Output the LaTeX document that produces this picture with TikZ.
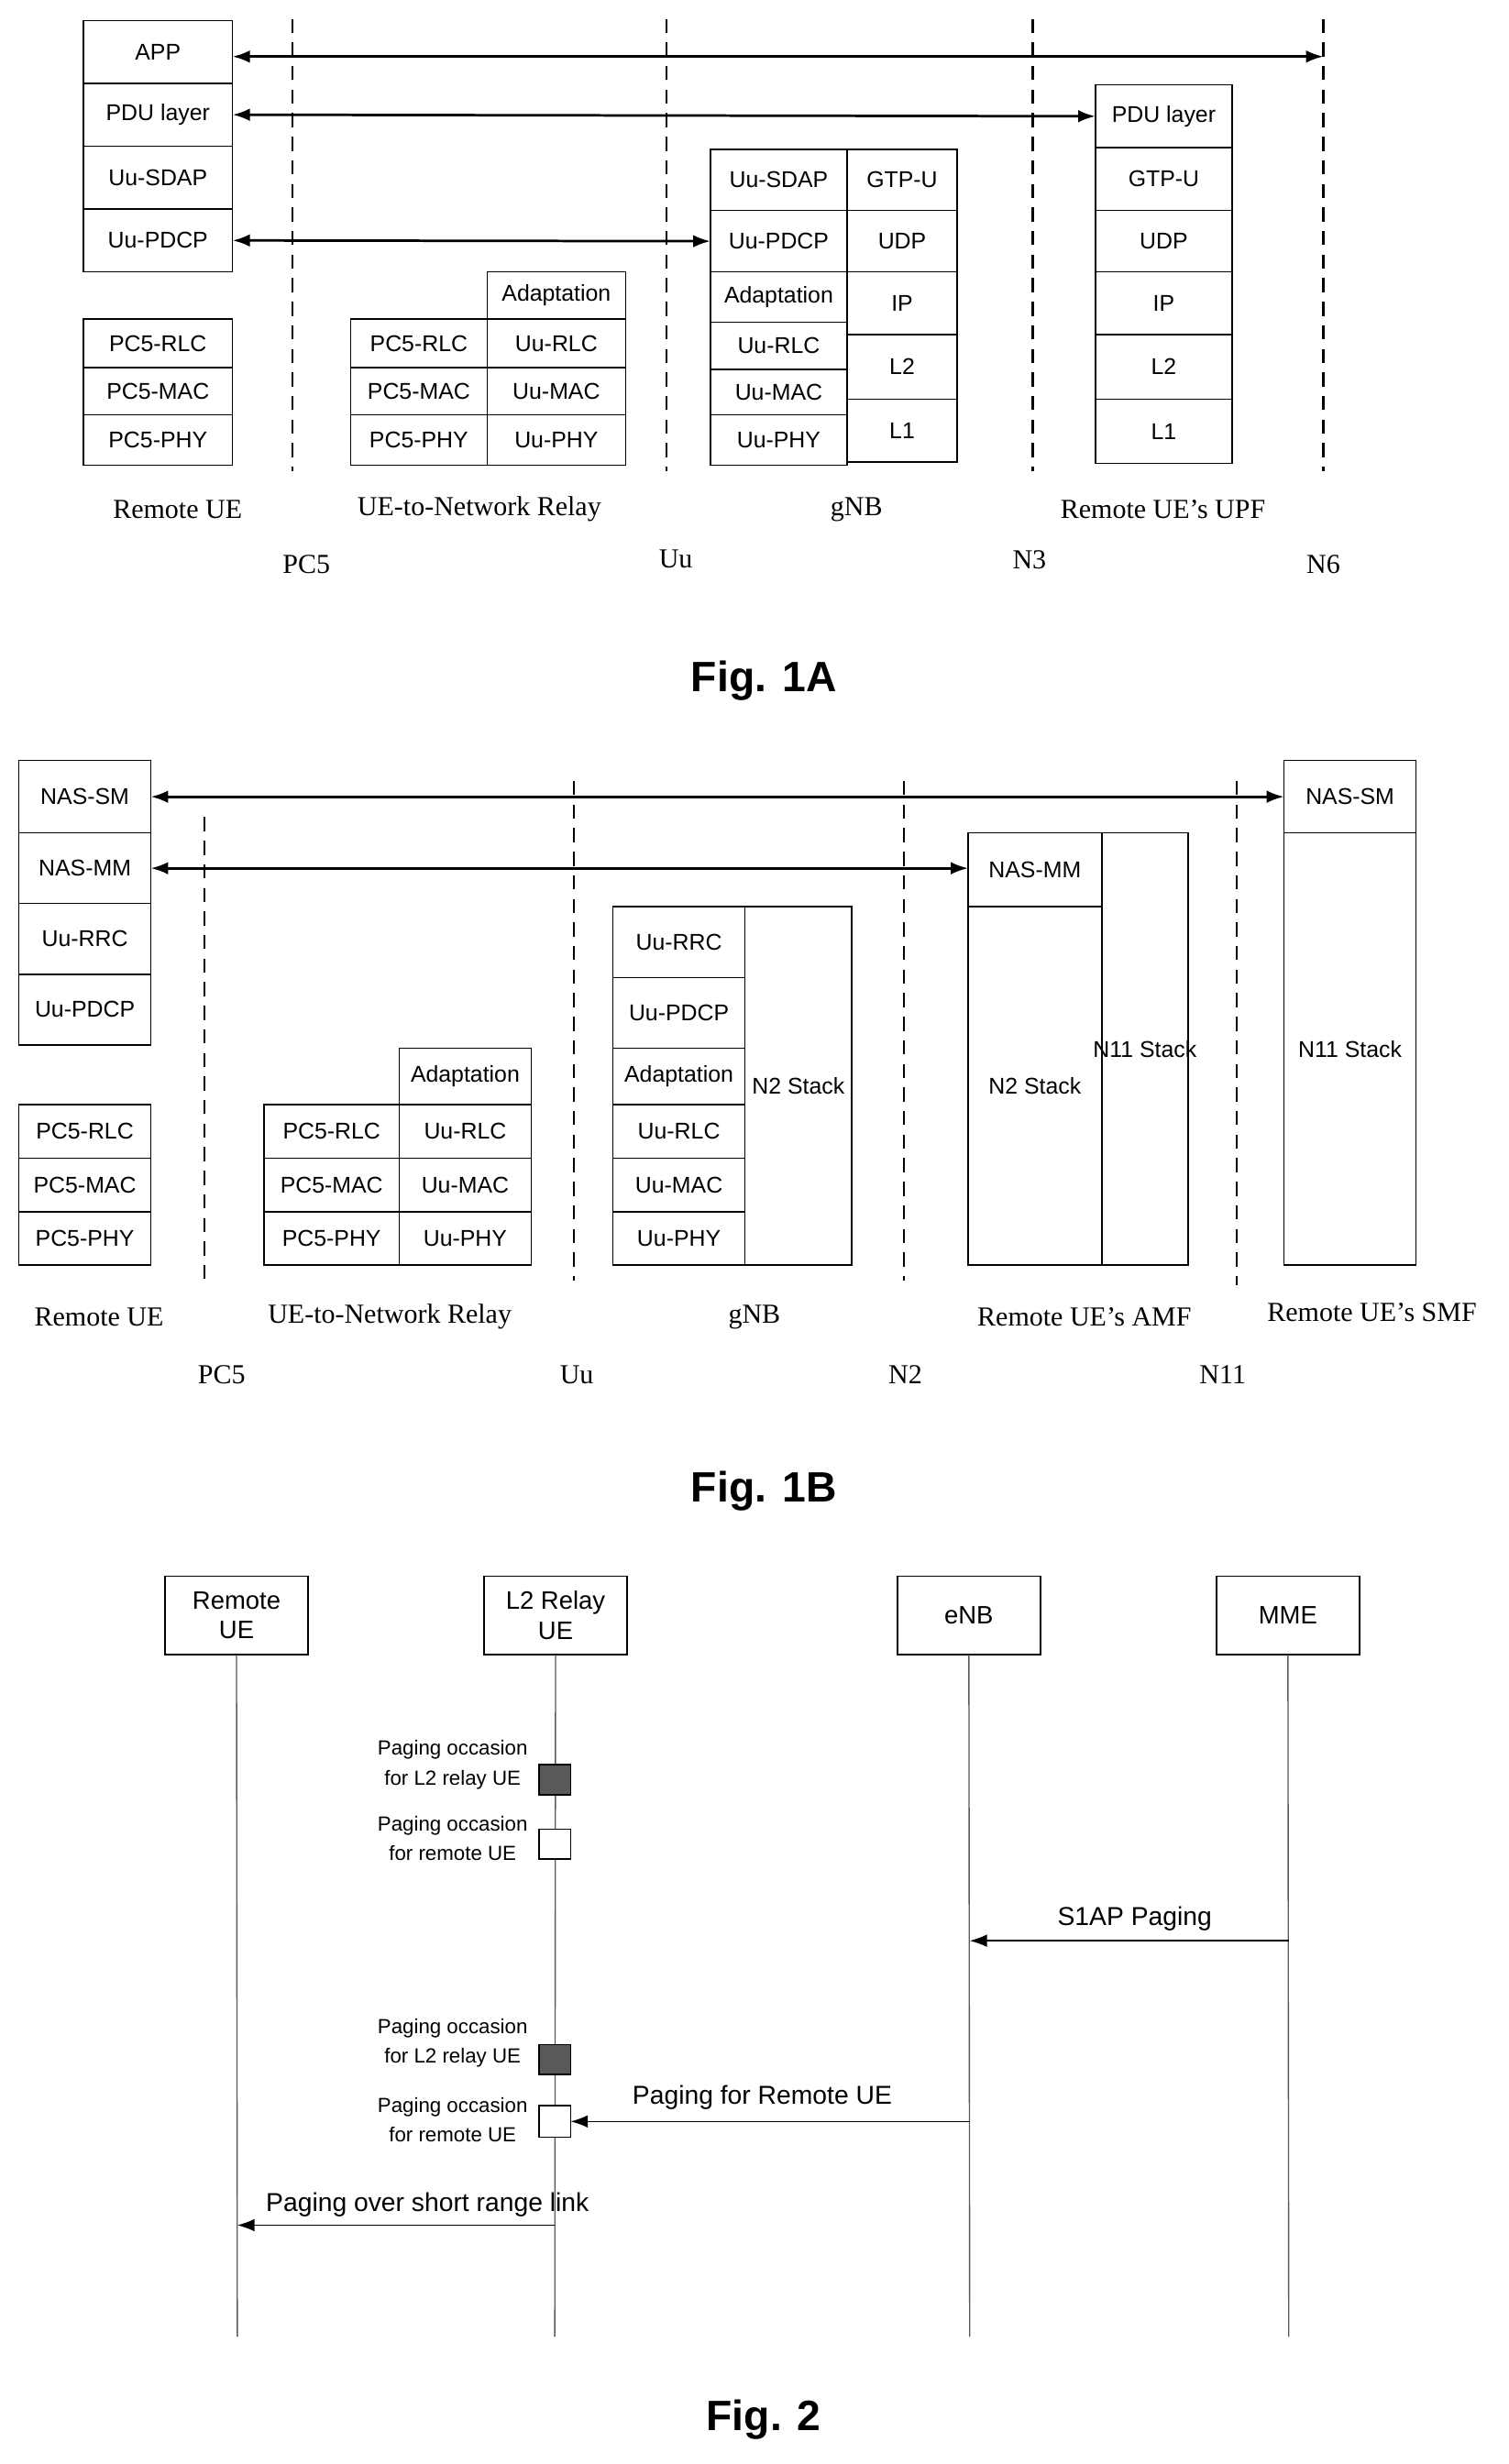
\documentclass[tikz,border=0pt]{standalone}
\usepackage{fontspec}
\setmainfont{Liberation Serif}
\newfontfamily\sansf{Liberation Sans}
\usetikzlibrary{arrows.meta}
\begin{document}
\begin{tikzpicture}[x=1pt,y=-1pt,
 box/.style={draw,line width=0.9pt,inner sep=0pt,outer sep=0pt,font=\sansf\fontsize{14.5}{17}\selectfont},
 dsh/.style={line width=1.4pt,dash pattern=on 9pt off 6pt},
 dar/.style={line width=1.6pt,{Latex[length=11pt,width=8pt]}-{Latex[length=11pt,width=8pt]}},
 sar/.style={line width=0.9pt,-{Latex[length=11pt,width=8pt]}},
 lab/.style={font=\fontsize{17.5}{20}\selectfont},
 fig/.style={font=\sansf\bfseries\fontsize{27}{30}\selectfont},
 po/.style={font=\sansf\fontsize{13}{19}\selectfont,align=center},
 msg/.style={font=\sansf\fontsize{16.5}{19}\selectfont},
 hdr/.style={font=\sansf\fontsize{16}{19}\selectfont,align=center}]
\useasboundingbox (0,0) rectangle (960,1568);
\newcommand\bx[6]{\pgfmathsetmacro\bw{#4-#2}\pgfmathsetmacro\bh{#5-#3}%
 \node[box,minimum width=\bw pt,minimum height=\bh pt] (#1) at ({(#2+#4)/2},{(#3+#5)/2}) {#6};}
% ---------- Fig 1A
\bx{app}{53}{13}{148}{53}{APP}
\bx{pdu}{53}{53}{148}{93}{PDU layer}
\bx{sdap}{53}{93}{148}{133}{Uu-SDAP}
\bx{pdcp}{53}{133}{148}{173}{Uu-PDCP}
\bx{rrlc}{53}{203}{148}{234}{PC5-RLC}
\bx{rmac}{53}{234}{148}{264}{PC5-MAC}
\bx{rphy}{53}{264}{148}{296}{PC5-PHY}
\bx{l1}{223}{203}{310}{234}{PC5-RLC}
\bx{l2}{223}{234}{310}{264}{PC5-MAC}
\bx{l3}{223}{264}{310}{296}{PC5-PHY}
\bx{la}{310}{173}{398}{203}{Adaptation}
\bx{lb}{310}{203}{398}{234}{Uu-RLC}
\bx{lc}{310}{234}{398}{264}{Uu-MAC}
\bx{ld}{310}{264}{398}{296}{Uu-PHY}
\bx{g1}{452}{95}{539}{134}{Uu-SDAP}
\bx{g2}{452}{134}{539}{173}{Uu-PDCP}
\bx{g3}{452}{173}{539}{205}{Adaptation}
\bx{g4}{452}{205}{539}{235}{Uu-RLC}
\bx{g5}{452}{235}{539}{264}{Uu-MAC}
\bx{g6}{452}{264}{539}{296}{Uu-PHY}
\bx{h1}{539}{95}{609}{134}{GTP-U}
\bx{h2}{539}{134}{609}{173}{UDP}
\bx{h3}{539}{173}{609}{213}{IP}
\bx{h4}{539}{213}{609}{254}{L2}
\bx{h5}{539}{254}{609}{294}{L1}
\bx{u1}{697}{54}{784}{94}{PDU layer}
\bx{u2}{697}{94}{784}{134}{GTP-U}
\bx{u3}{697}{134}{784}{173}{UDP}
\bx{u4}{697}{173}{784}{213}{IP}
\bx{u5}{697}{213}{784}{254}{L2}
\bx{u6}{697}{254}{784}{295}{L1}
\coordinate (a1) at (186,12); \coordinate (a1b) at (186,300);
\coordinate (a2) at (424,12); \coordinate (a2b) at (424,300);
\coordinate (a3) at (657,12); \coordinate (a3b) at (657,300);
\coordinate (a4) at (842,12); \coordinate (a4b) at (842,300);
\foreach \p in {1,2,3,4}{\draw[dsh] (a\p) -- (a\p b);}
\draw[dar] ([yshift=-3pt]app.east) -- ([yshift=-3pt]app.east -| a4);
\draw[dar] (pdu.east) -- (u1.west);
\draw[dar] (pdcp.east) -- (g2.west);
\node[lab] (t1) at (113,324) {Remote UE};
\node[lab] (t2) at (305,324) {UE-to-Network Relay};
\node[lab] (t3) at (545,324) {gNB};
\node[lab] (t4) at (740,324) {Remote UE’s UPF};
\node[lab] (i1) at (195,359) {PC5};
\node[lab] (i2) at (430,356) {Uu};
\node[lab] (i3) at (655,356) {N3};
\node[lab] (i4) at (842,359) {N6};
\node[fig] (f1) at (486,433) {Fig. 1A};
% ---------- Fig 1B
\bx{b1}{12}{484}{96}{530}{NAS-SM}
\bx{b2}{12}{530}{96}{575}{NAS-MM}
\bx{b3}{12}{575}{96}{620}{Uu-RRC}
\bx{b4}{12}{620}{96}{665}{Uu-PDCP}
\bx{b5}{12}{703}{96}{737}{PC5-RLC}
\bx{b6}{12}{737}{96}{771}{PC5-MAC}
\bx{b7}{12}{771}{96}{805}{PC5-PHY}
\bx{c1}{168}{703}{254}{737}{PC5-RLC}
\bx{c2}{168}{737}{254}{771}{PC5-MAC}
\bx{c3}{168}{771}{254}{805}{PC5-PHY}
\bx{c4}{254}{667}{338}{703}{Adaptation}
\bx{c5}{254}{703}{338}{737}{Uu-RLC}
\bx{c6}{254}{737}{338}{771}{Uu-MAC}
\bx{c7}{254}{771}{338}{805}{Uu-PHY}
\bx{d1}{390}{577}{474}{622}{Uu-RRC}
\bx{d2}{390}{622}{474}{667}{Uu-PDCP}
\bx{d3}{390}{667}{474}{703}{Adaptation}
\bx{d4}{390}{703}{474}{737}{Uu-RLC}
\bx{d5}{390}{737}{474}{771}{Uu-MAC}
\bx{d6}{390}{771}{474}{805}{Uu-PHY}
\bx{d7}{474}{577}{542}{805}{N2 Stack}
\bx{e1}{616}{530}{701}{577}{NAS-MM}
\bx{e2}{616}{577}{701}{805}{N2 Stack}
\bx{e3}{701}{530}{756}{805}{}
\node[font=\sansf\fontsize{14.5}{17}\selectfont,inner sep=0pt] (e3t) at (e3.center) {N11 Stack};
\bx{s1}{817}{484}{901}{530}{NAS-SM}
\bx{s2}{817}{530}{901}{805}{N11 Stack}
\coordinate (k1) at (130,520); \coordinate (k1b) at (130,815);
\coordinate (k2) at (365,497); \coordinate (k2b) at (365,815);
\coordinate (k3) at (575,497); \coordinate (k3b) at (575,815);
\coordinate (k4) at (787,497); \coordinate (k4b) at (787,818);
\foreach \p in {1,2,3,4}{\draw[dsh] (k\p) -- (k\p b);}
\draw[dar] (b1.east) -- (s1.west);
\draw[dar] (b2.east) -- (b2.east -| e1.west);
\node[lab] (r1) at (63,838) {Remote UE};
\node[lab] (r2) at (248,838) {UE-to-Network Relay};
\node[lab] (r3) at (480,838) {gNB};
\node[lab] (r4) at (690,838) {Remote UE’s AMF};
\node[lab] (r5) at (873,835) {Remote UE’s SMF};
\node[lab] (j1) at (141,875) {PC5};
\node[lab] (j2) at (367,875) {Uu};
\node[lab] (j3) at (576,875) {N2};
\node[lab] (j4) at (778,875) {N11};
\node[fig] (f2) at (486,949) {Fig. 1B};
% ---------- Fig 2
\bx{p1}{105}{1003}{196}{1053}{}
\bx{p2}{308}{1003}{399}{1053}{}
\bx{p3}{571}{1003}{662}{1053}{}
\bx{p4}{774}{1003}{865}{1053}{}
\node[hdr] (p1t) at (p1.center) {Remote\\UE};
\node[hdr] (p2t) at (p2.center) {L2 Relay\\UE};
\node[hdr] (p3t) at (p3.center) {eNB};
\node[hdr] (p4t) at (p4.center) {MME};
\coordinate (q1) at (151,1487); \coordinate (q2) at (353,1487);
\coordinate (q3) at (617,1487); \coordinate (q4) at (820,1487);
\foreach \p in {1,2,3,4}{\draw[line width=0.8pt,gray!70!black] (p\p.south) -- (q\p);}
\bx{o1}{343}{1123}{363}{1142}{}
\bx{o2}{343}{1164}{363}{1183}{}
\bx{o3}{343}{1301}{363}{1320}{}
\bx{o4}{343}{1340}{363}{1360}{}
\fill[white] (o2.north west) rectangle (o2.south east) (o4.north west) rectangle (o4.south east);
\fill[gray!70!black] (o1.north west) rectangle (o1.south east);
\fill[gray!70!black] (o3.north west) rectangle (o3.south east);
\draw[line width=0.9pt] (o1.north west) rectangle (o1.south east) (o3.north west) rectangle (o3.south east)
 (o2.north west) rectangle (o2.south east) (o4.north west) rectangle (o4.south east);
\node[po] (w1) at (288,1123) {Paging occasion\\for L2 relay UE};
\node[po] (w2) at (288,1170) {Paging occasion\\for remote UE};
\node[po] (w3) at (288,1300) {Paging occasion\\for L2 relay UE};
\node[po] (w4) at (288,1349) {Paging occasion\\for remote UE};
\coordinate (m1) at (820,1235); \coordinate (m1e) at (617,1235);
\coordinate (m2) at (617,1350); \coordinate (m3) at (353,1416); \coordinate (m3e) at (151,1416);
\draw[sar] (m1) -- (m1e);
\draw[sar] (m2) -- (o4.east);
\draw[sar] (m3) -- (m3e);
\node[msg] (x1) at (722,1221) {S1AP Paging};
\node[msg] (x2) at (485,1335) {Paging for Remote UE};
\node[msg] (x3) at (272,1403) {Paging over short range link};
\node[fig] (f3) at (486,1540) {Fig. 2};
\end{tikzpicture}
\end{document}
